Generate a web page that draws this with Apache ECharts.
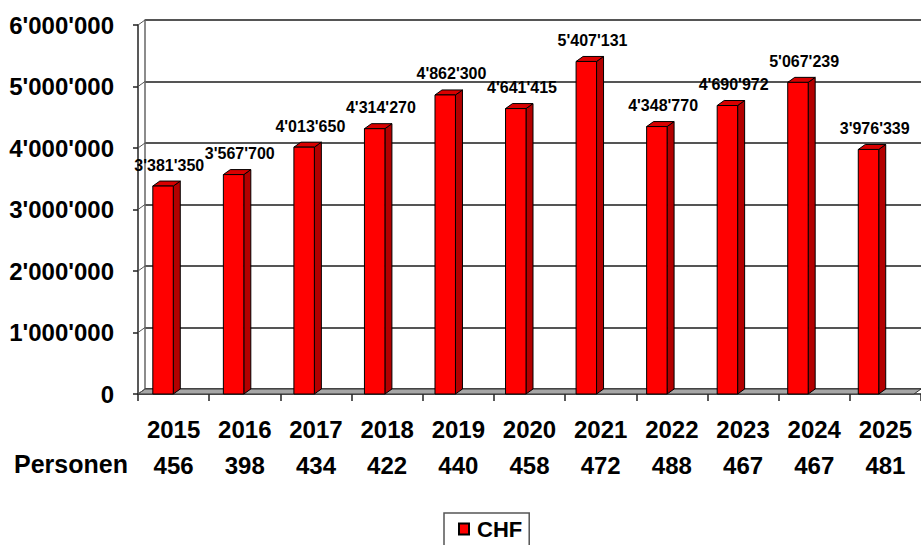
<!DOCTYPE html>
<html>
<head>
<meta charset="utf-8">
<script src="https://cdn.jsdelivr.net/npm/echarts@6/dist/echarts.min.js"></script>
<style>
  html, body { margin: 0; padding: 0; background: #fff; }
  #chart { width: 921px; height: 545px; }
</style>
</head>
<body>
<div id="chart"></div>
<script>
const years = ['2015', '2016', '2017', '2018', '2019', '2020', '2021', '2022', '2023', '2024', '2025']
const personen = [456, 398, 434, 422, 440, 458, 472, 488, 467, 467, 481]
const chf = [3381350, 3567700, 4013650, 4314270, 4862300, 4641415, 5407131, 4348770, 4690972, 5067239, 3976339]

const FONT = "'Liberation Sans', Arial, sans-serif"
// offset from back wall to front plane
const DX = -7, DY = 5

function fmt(v) {
  return String(v).replace(/\B(?=(\d{3})+(?!\d))/g, "'")
}

const chart = echarts.init(document.getElementById('chart'), null, { renderer: 'svg' })

// floor + left wall diagonals
function renderFloor(params, api) {
  const cs = params.coordSys
  const x = cs.x, y = cs.y, w = cs.width, h = cs.height
  const children = [{
    type: 'polygon',
    shape: { points: [[x, y + h], [x + w, y + h], [x + w + DX, y + h + DY], [x + DX, y + h + DY]] },
    style: { fill: '#a6a6a6', stroke: '#333', lineWidth: 1 }
  }]
  for (let v = 0; v <= 6000000; v += 1000000) {
    const p = api.coord([0, v])
    children.push({
      type: 'line',
      shape: { x1: x, y1: p[1], x2: x + DX, y2: p[1] + DY },
      style: { stroke: '#555', lineWidth: 1 }
    })
  }
  return { type: 'group', children }
}

function renderBar(params, api) {
  const i = api.value(0)
  const v = api.value(1)
  const top = api.coord([i, v])
  const base = api.coord([i, 0])
  const bw = api.size([1, 0])[0]
  const w = bw * 0.29
  const x1 = top[0] + DX
  const x0 = x1 - w
  const y0 = top[1] + DY
  const y1 = base[1] + DY
  return {
    type: 'group',
    children: [
      {
        type: 'polygon',
        shape: { points: [[x1, y0], [x1 - DX, y0 - DY], [x1 - DX, y1 - DY], [x1, y1]] },
        style: { fill: '#b30000', stroke: '#000', lineWidth: 1 }
      },
      {
        type: 'polygon',
        shape: { points: [[x0, y0], [x0 - DX, y0 - DY], [x1 - DX, y0 - DY], [x1, y0]] },
        style: { fill: '#d80000', stroke: '#000', lineWidth: 1 }
      },
      {
        type: 'rect',
        shape: { x: x0, y: y0, width: w, height: y1 - y0 },
        style: { fill: '#ff0000', stroke: '#000', lineWidth: 1 }
      },
      {
        type: 'text',
        style: {
          x: top[0] - 11, y: top[1] - 8,
          text: fmt(v),
          fill: '#000',
          font: 'bold 16px ' + FONT,
          textAlign: 'center',
          textVerticalAlign: 'bottom'
        }
      }
    ]
  }
}

const option = {
  animation: false,
  textStyle: { fontFamily: FONT },
  grid: [
    { left: 145, top: 20, width: 786.5, height: 369 },
    { left: 138, top: 25, width: 786.5, height: 369 }
  ],
  xAxis: [
    {
      type: 'category', gridIndex: 0, data: years,
      axisLine: { show: false }, axisTick: { show: false }, axisLabel: { show: false }
    },
    {
      type: 'category', gridIndex: 1, data: years,
      axisLine: { show: true, lineStyle: { color: '#222', width: 1.5 } },
      axisTick: { show: true, length: 7, interval: 0, lineStyle: { color: '#222', width: 1.5 } },
      axisLabel: {
        interval: 0,
        margin: 17,
        formatter: (val, idx) => '{y|' + val + '}\n{p|' + personen[idx] + '}',
        rich: {
          y: { fontSize: 24, fontWeight: 'bold', color: '#000', fontFamily: FONT, lineHeight: 36 },
          p: { fontSize: 24, fontWeight: 'bold', color: '#000', fontFamily: FONT, lineHeight: 36 }
        }
      }
    }
  ],
  yAxis: [
    {
      type: 'value', gridIndex: 0, min: 0, max: 6000000, interval: 1000000,
      axisLine: { show: true, lineStyle: { color: '#666', width: 1.5 } },
      axisTick: { show: false }, axisLabel: { show: false },
      splitLine: { show: true, lineStyle: { color: '#555', width: 2 } }
    },
    {
      type: 'value', gridIndex: 1, min: 0, max: 6000000, interval: 1000000,
      axisLine: { show: true, lineStyle: { color: '#222', width: 1.5 } },
      axisTick: { show: true, length: 5, lineStyle: { color: '#222', width: 1.5 } },
      splitLine: { show: false },
      axisLabel: {
        margin: 24,
        formatter: v => fmt(v),
        fontSize: 24, fontWeight: 'bold', color: '#000', fontFamily: FONT
      }
    }
  ],
  legend: {
    data: ['CHF'],
    left: 444, top: 513,
    icon: 'rect', itemWidth: 10, itemHeight: 11, itemGap: 4,
    borderColor: '#555', borderWidth: 1.5, padding: [5, 7, 6, 14],
    textStyle: { fontSize: 22, fontWeight: 'bold', color: '#000', fontFamily: FONT, padding: [0, 0, 0, 3] }
  },
  graphic: [{
    type: 'text', left: 14, top: 451,
    style: { text: 'Personen', font: 'bold 25px ' + FONT, fill: '#000' }
  }],
  series: [
    {
      type: 'custom', name: 'floor', xAxisIndex: 0, yAxisIndex: 0,
      renderItem: renderFloor, data: [[0, 0]], z: 1, silent: true
    },
    {
      type: 'custom', name: 'CHF', xAxisIndex: 0, yAxisIndex: 0,
      renderItem: renderBar,
      itemStyle: { color: '#ff0000', borderColor: '#000', borderWidth: 1 },
      data: chf.map((v, i) => [i, v]),
      encode: { x: 0, y: 1 },
      z: 3
    }
  ]
}

chart.setOption(option)
</script>
</body>
</html>
